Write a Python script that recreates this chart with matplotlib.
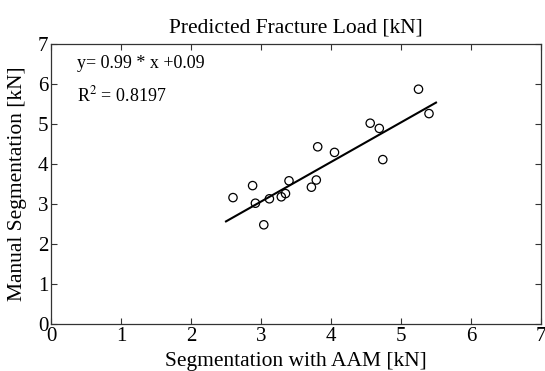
import matplotlib
matplotlib.use("Agg")
import matplotlib.pyplot as plt
import numpy as np

# AAM-based vs manual segmentation: predicted fracture load [kN]
aam_load = [5.25, 5.40, 4.56, 4.69, 4.74, 4.05, 3.81, 3.79, 3.72, 3.40,
            3.35, 3.29, 3.12, 2.92, 2.88, 2.60, 3.04]
manual_load = [5.87, 5.26, 5.02, 4.89, 4.11, 4.29, 4.43, 3.60, 3.42, 3.58,
               3.26, 3.18, 3.13, 3.02, 3.46, 3.16, 2.48]

fit_slope = 0.99
fit_intercept = 0.09
fit_r2 = 0.8197
fit_range = [2.5, 5.5]

ticks = [0, 1, 2, 3, 4, 5, 6, 7]

plt.rcParams['font.family'] = ['Liberation Serif', 'DejaVu Serif']
plt.rcParams['mathtext.fontset'] = 'stix'

fig = plt.figure(figsize=(5.45, 3.71), dpi=100)
ax = fig.add_axes([51 / 545, 1 - 324 / 371, 490 / 545, 280 / 371])

ax.scatter(aam_load, manual_load, s=36, facecolors='none', edgecolors='black',
           linewidths=0.9, zorder=3)

xf = np.array(fit_range)
ax.plot(xf, fit_slope * xf + fit_intercept, color='black', lw=1.5, zorder=2)

ax.set_xlim(0, 7)
ax.set_ylim(0, 7)
ax.set_xticks(ticks)
ax.set_yticks(ticks)
ax.tick_params(direction='in', length=4, width=0.8, top=True, right=True,
               labelsize=15, pad=2, colors='#333333', labelcolor='black')
for s in ax.spines.values():
    s.set_color('#333333')
    s.set_linewidth(0.9)

ax.text(0.37, 6.4, f"y= {fit_slope} * x +{fit_intercept}", fontsize=13)
ax.text(0.37, 5.56, f"R$^2$ = {fit_r2}", fontsize=13)

ax.set_title("Predicted Fracture Load [kN]", fontsize=15.5, pad=8)
ax.set_xlabel("Segmentation with AAM [kN]", fontsize=15.5)
ax.set_ylabel("Manual Segmentation [kN]", fontsize=15.5)
ax.xaxis.set_label_coords(0.5, -0.135, transform=ax.transAxes)
ax.yaxis.set_label_coords(-0.068, 0.5, transform=ax.transAxes)
ax.xaxis.label.set_va('center')
ax.yaxis.label.set_va('center')

fig.savefig("out.png", dpi=100)
